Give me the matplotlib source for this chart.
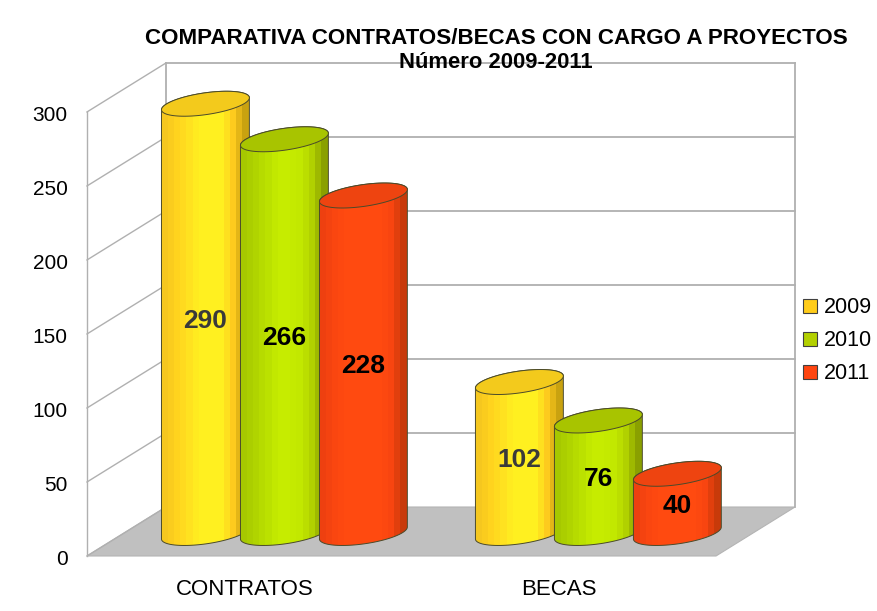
import numpy as np
import matplotlib
matplotlib.use('Agg')
import matplotlib.pyplot as plt
from matplotlib.colors import LinearSegmentedColormap
from matplotlib.patches import Patch, Polygon
from matplotlib.transforms import ScaledTranslation

plt.rcParams['font.family'] = ['Liberation Sans', 'DejaVu Sans']

categories = ['CONTRATOS', 'BECAS']
years = ['2009', '2010', '2011']
v2009 = [290, 102]
v2010 = [266, 76]
v2011 = [228, 40]
yticks = [0, 50, 100, 150, 200, 250, 300]

series = [v2009, v2010, v2011]
label_colors = ['#3a3a3a', '#000000', '#000000']
top_colors = ['#f3ca1c', '#a8c400', '#ee4410']
legend_colors = ['#ffcc1a', '#b3d000', '#ff4510']
ramps = [
    ['#f5c71f', '#ffd21e', '#ffe020', '#fff020', '#fff020', '#fff020', '#fdc81e', '#c9a210'],
    ['#a6c800', '#b0d400', '#bae000', '#c6ec00', '#c6ec00', '#c2e800', '#b0d000', '#8aa000'],
    ['#ee4010', '#fa4610', '#ff4a10', '#ff4a10', '#ff4a10', '#ff4a10', '#f84510', '#c83a0a'],
]

fig = plt.figure(figsize=(8.77, 6.11), dpi=100)
ax = fig.add_axes([87/877, (611-556)/611, (795-87)/877, (556-64)/611])
x0, x1 = -0.503, 1.752
y1 = 332.4

# depth of the fake 3d box, in data units
depth_x = 0.2516
depth_y = 33.1
bar_w = 0.28
bar_step = 0.2516
shear = 4.05
ell_h = 7.4
grey = '#b0b0b0'

# floor and walls
ax.add_patch(Polygon([(x0, 0), (x1-depth_x, 0), (x1, depth_y), (x0+depth_x, depth_y)],
                     closed=True, fc='#c0c0c0', ec='#b4b4b4', lw=0.8, zorder=1, clip_on=False))
for t in yticks:
    ax.plot([x0, x0+depth_x], [t, t+depth_y], color=grey, lw=1, zorder=1.5, clip_on=False)
    if t > 0:
        ax.plot([x0+depth_x, x1], [t+depth_y, t+depth_y], color=grey, lw=1.3, zorder=1.5, clip_on=False)
ax.plot([x0, x0], [0, 300], color=grey, lw=1, zorder=1.5, clip_on=False)
ax.plot([x0+depth_x]*2, [depth_y, 300+depth_y], color=grey, lw=1.3, zorder=1.5, clip_on=False)
ax.plot([x1, x1], [depth_y, 300+depth_y], color=grey, lw=1.3, zorder=1.5, clip_on=False)

# cylinders
t_arc = np.linspace(0, 2*np.pi, 121)
lower = np.linspace(np.pi, 2*np.pi, 61)
upper = np.linspace(0, np.pi, 61)
base = depth_y/2 - 1.0
z = 2
for c in range(len(categories)):
    for s in range(len(years)):
        v = series[s][c]
        cx = c + depth_x/2 + (s-1)*bar_step
        body_x = np.r_[cx + bar_w/2*np.cos(lower), cx + bar_w/2*np.cos(upper)]
        body_y = np.r_[base + ell_h*np.sin(lower) + shear*np.cos(lower),
                       base + v + ell_h*np.sin(upper) + shear*np.cos(upper)]
        cmap = LinearSegmentedColormap.from_list('r', ramps[s], N=14)
        im = ax.imshow(np.linspace(0, 1, 256)[None, :], cmap=cmap, aspect='auto', zorder=z,
                       extent=[cx-bar_w/2, cx+bar_w/2, base-ell_h-shear, base+v+ell_h+shear],
                       interpolation='nearest')
        body = Polygon(np.c_[body_x, body_y], closed=True, fc='none', ec='#4a4a2a', lw=0.7, zorder=z+0.1)
        ax.add_patch(body)
        im.set_clip_path(body)
        ax.fill(cx + bar_w/2*np.cos(t_arc), base + v + ell_h*np.sin(t_arc) + shear*np.cos(t_arc),
                fc=top_colors[s], ec='#4a4a2a', lw=0.7, zorder=z+0.2)
        ax.text(cx, base + v/2 - 1.5, str(v), ha='center', va='center', fontsize=19, fontweight='bold',
                color=label_colors[s], zorder=20)
        z += 1

ax.set_xlim(x0, x1)
ax.set_ylim(0, y1)

ax.set_yticks(yticks)
ax.set_xticks(range(len(categories)))
ax.set_xticklabels(categories)
ax.tick_params(axis='y', length=0, pad=14, labelsize=15)
ax.tick_params(axis='x', length=0, pad=16.5, labelsize=16)
# y labels sit a little lower than the ticks in the original
for lab in ax.get_yticklabels():
    lab.set_transform(lab.get_transform() + ScaledTranslation(0, -0.8/72, fig.dpi_scale_trans))
for sp in ax.spines.values():
    sp.set_visible(False)
ax.patch.set_visible(False)

fig.text(496/877, 1-38.5/611, 'COMPARATIVA CONTRATOS/BECAS CON CARGO A PROYECTOS', ha='center', va='center',
         fontsize=16.1, fontweight='bold', color='#000000')
fig.text(496/877, 1-62/611, 'Número 2009-2011', ha='center', va='center',
         fontsize=15.8, fontweight='bold', color='#000000')

handles = [Patch(fc=legend_colors[i], ec='#404040', lw=0.8) for i in range(3)]
fig.legend(handles, years, loc='upper left', bbox_to_anchor=(797/877, 1-291/611), frameon=False,
           fontsize=15.5, handlelength=0.62, handleheight=0.62, handletextpad=0.32, labelspacing=0.55,
           borderpad=0.3, borderaxespad=0)

plt.savefig('out.png')
